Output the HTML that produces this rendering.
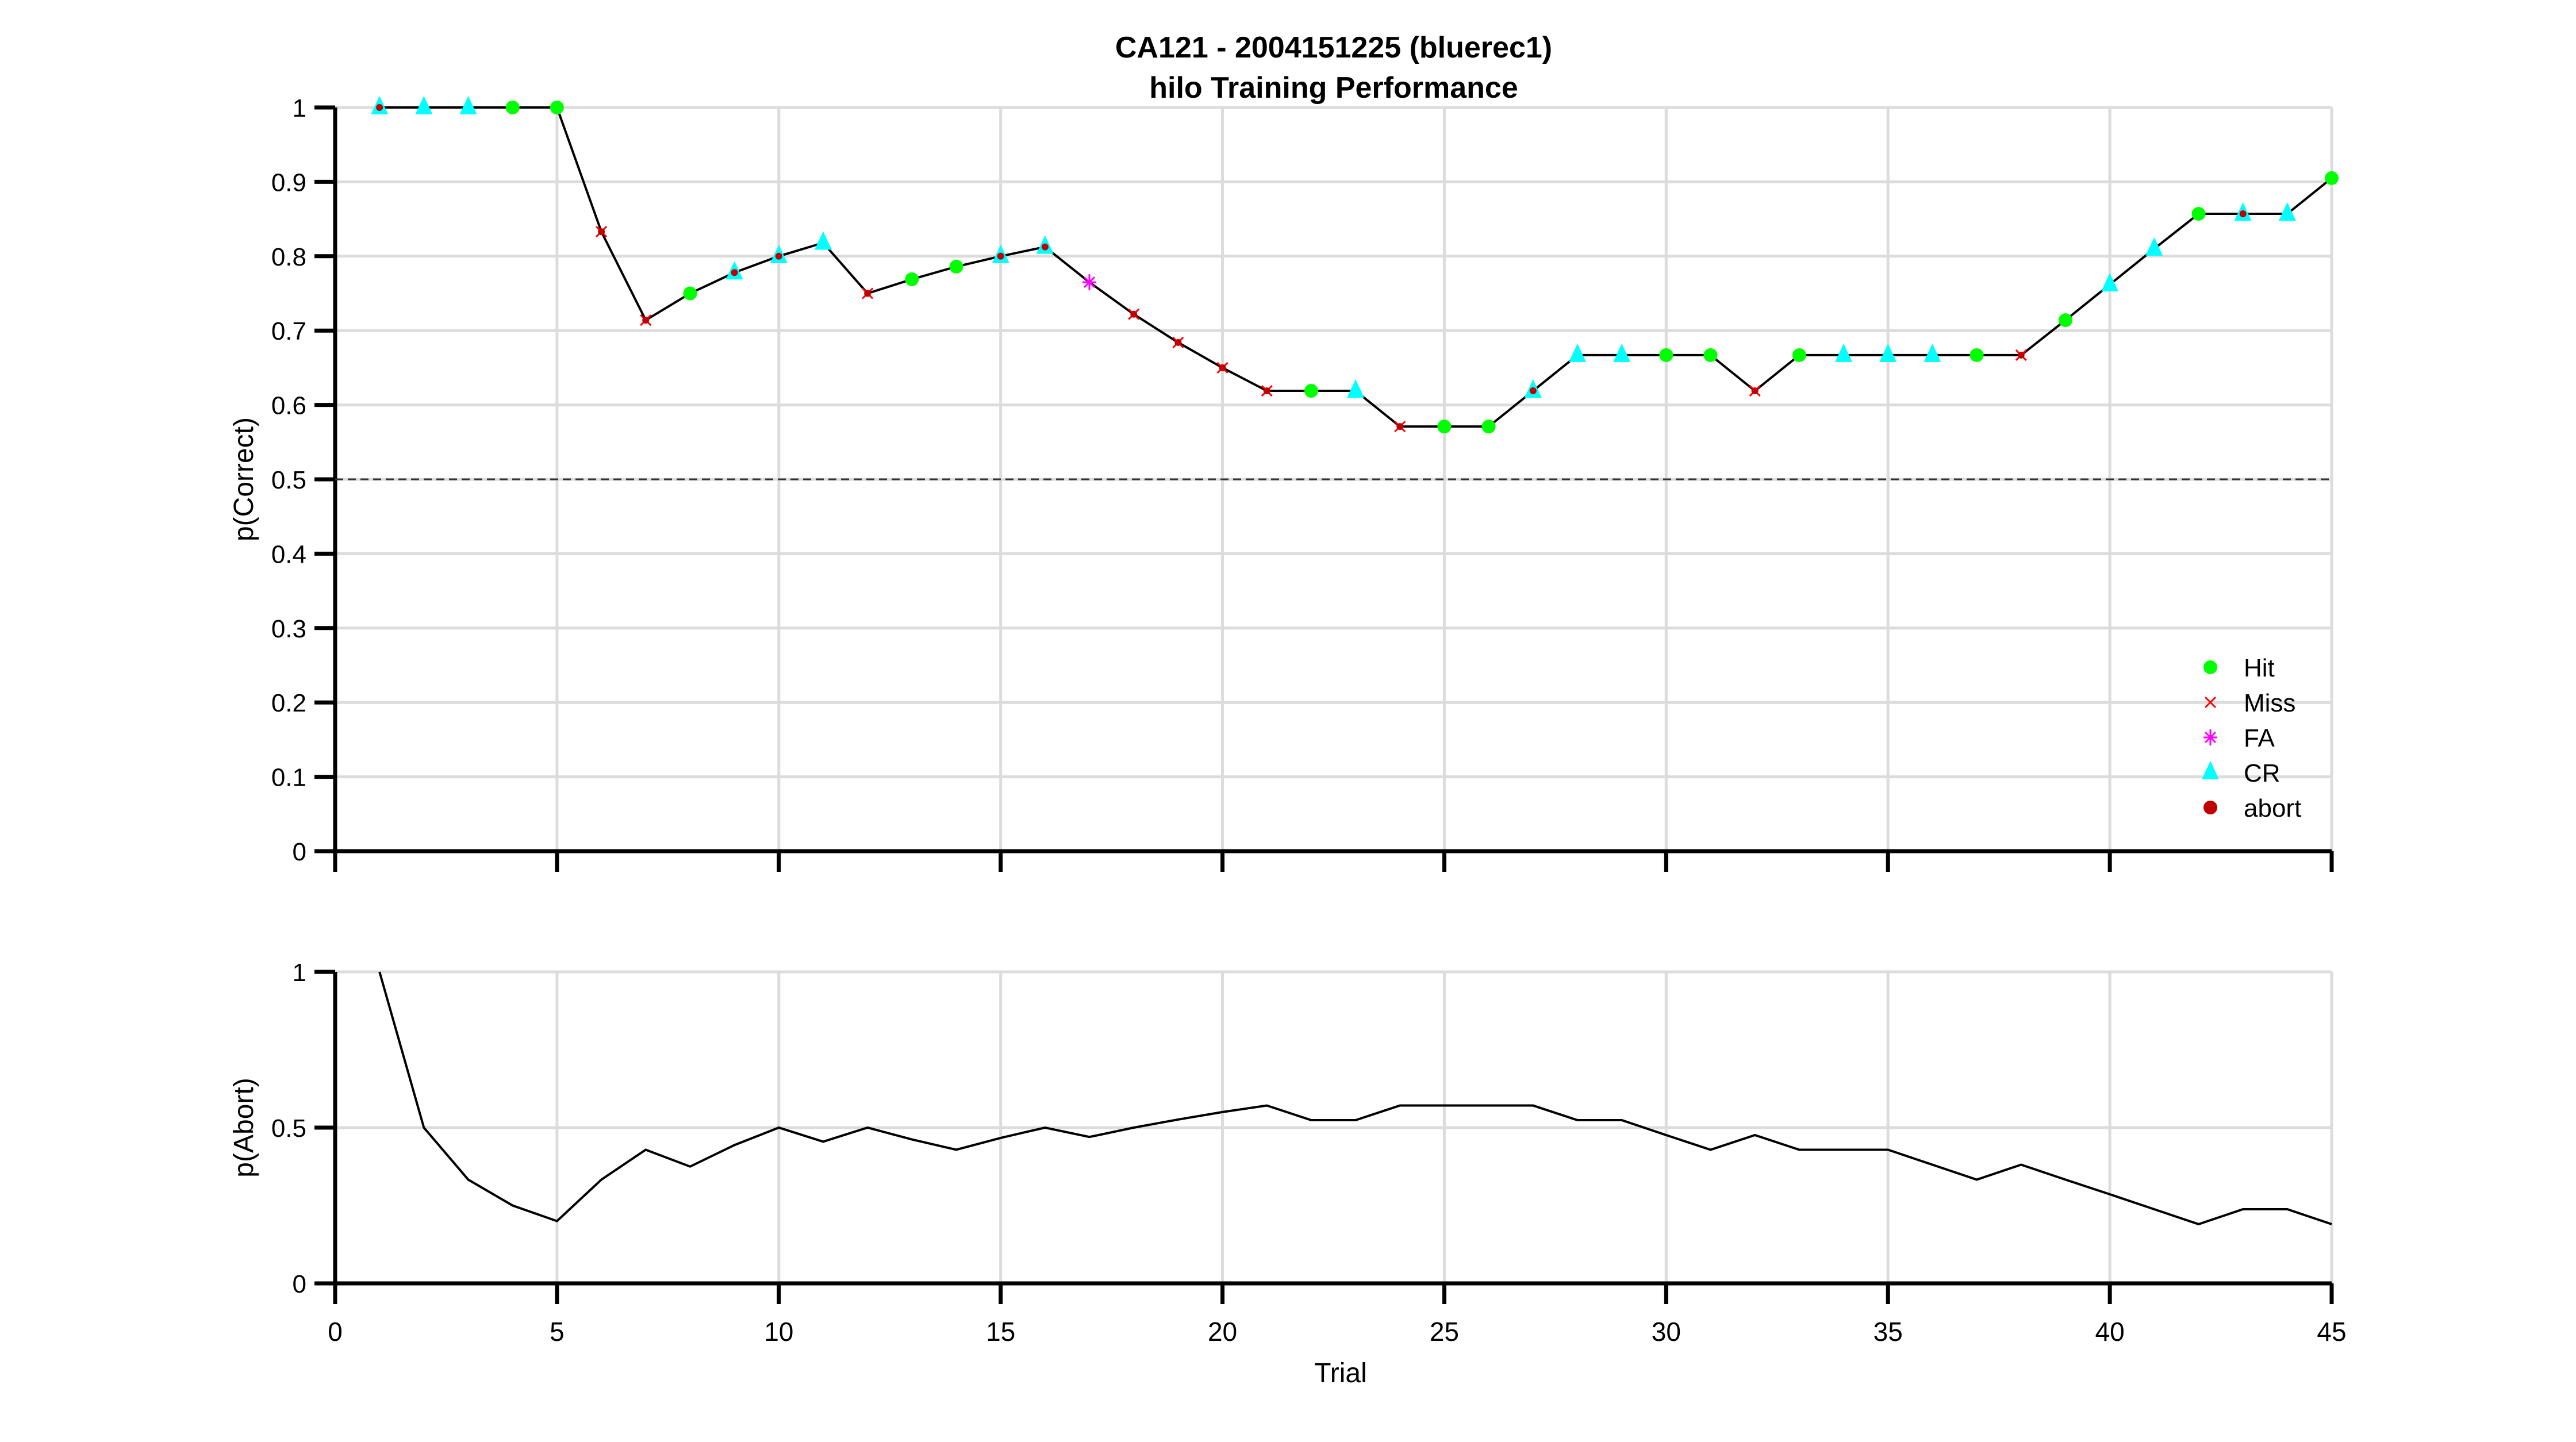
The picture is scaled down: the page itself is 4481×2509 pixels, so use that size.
<!DOCTYPE html>
<html><head><meta charset="utf-8">
<style>html,body{margin:0;padding:0;background:#fff;}svg{display:block;font-family:"Liberation Sans",Arial,sans-serif;}</style>
</head><body>
<svg id="chart" width="4481" height="2509" viewBox="0 0 4481 2509" xmlns="http://www.w3.org/2000/svg">
<g font-weight="bold" font-size="52" text-anchor="middle">
<text x="2320" y="100">CA121 - 2004151225 (bluerec1)</text>
<text x="2320" y="170">hilo Training Performance</text>
</g>
<g id="topPlot"></g>
<g id="botPlot"></g>
<g id="legend"></g>
<text x="2332" y="2405" font-size="48" text-anchor="middle">Trial</text>
<text transform="translate(440,834) rotate(-90)" font-size="48" text-anchor="middle">p(Correct)</text>
<text transform="translate(440,1962) rotate(-90)" font-size="48" text-anchor="middle">p(Abort)</text>
</svg>
<script>
const trials = [1,2,3,4,5,6,7,8,9,10,11,12,13,14,15,16,17,18,19,20,21,22,23,24,25,26,27,28,29,30,31,32,33,34,35,36,37,38,39,40,41,42,43,44,45];
const pCorrect = [1,1,1,1,1,0.833,0.714,0.75,0.778,0.8,0.818,0.75,0.769,0.786,0.8,0.8125,0.765,0.722,0.684,0.65,0.619,0.619,0.619,0.571,0.571,0.571,0.619,0.667,0.667,0.667,0.667,0.619,0.667,0.667,0.667,0.667,0.667,0.667,0.714,0.762,0.81,0.857,0.857,0.857,0.905];
const outcome = ["CR","CR","CR","Hit","Hit","Miss","Miss","Hit","CR","CR","CR","Miss","Hit","Hit","CR","CR","FA","Miss","Miss","Miss","Miss","Hit","CR","Miss","Hit","Hit","CR","CR","CR","Hit","Hit","Miss","Hit","CR","CR","CR","Hit","Miss","Hit","CR","CR","Hit","CR","CR","Hit"];
const abortFlag = [1,0,0,0,0,1,1,0,1,1,0,1,0,0,1,1,0,1,1,1,1,0,0,1,0,0,1,0,0,0,0,1,0,0,0,0,0,1,0,0,0,0,1,0,0];
const pAbort = [1,0.5,0.333,0.25,0.2,0.333,0.429,0.375,0.444,0.5,0.455,0.5,0.462,0.429,0.467,0.5,0.47,0.5,0.526,0.55,0.571,0.524,0.524,0.571,0.571,0.571,0.571,0.524,0.524,0.476,0.429,0.476,0.429,0.429,0.429,0.381,0.333,0.381,0.333,0.286,0.238,0.19,0.238,0.238,0.19];
const xTicks = [0,5,10,15,20,25,30,35,40,45];
const yTicksTop = [0,0.1,0.2,0.3,0.4,0.5,0.6,0.7,0.8,0.9,1];
const yTickLabelsTop = ["0","0.1","0.2","0.3","0.4","0.5","0.6","0.7","0.8","0.9","1"];
const yTicksBot = [0,0.5,1];
const yTickLabelsBot = ["0","0.5","1"];
const legendLabels = ["Hit","Miss","FA","CR","abort"];

const NS="http://www.w3.org/2000/svg";
const X0=583,X1=4056;
const xs=v=>X0+(X1-X0)*v/45;
const yTopS=v=>1481-(1481-187)*v;
const yBotS=v=>2233-(2233-1691)*v;
function mk(parent,tag,attrs){const e=document.createElementNS(NS,tag);for(const k in attrs)e.setAttribute(k,attrs[k]);parent.appendChild(e);return e;}

function axes(g,ys,yT,yL,yTop0,yBottom,label){
  xTicks.forEach(t=>{const l=mk(g,'line',{x1:xs(t),x2:xs(t),y1:yTop0,y2:yBottom,stroke:'#dcdcdc','stroke-width':5});
    
    });
  yT.forEach(t=>{const l=mk(g,'line',{x1:X0,x2:X1,y1:ys(t),y2:ys(t),stroke:'#dcdcdc','stroke-width':5});
    
    });
  const ax=mk(g,'path',{d:`M${X0},${yTop0}V${yBottom}H${X1}`,fill:'none',stroke:'#000','stroke-width':7});
  
  
  yT.forEach((t,i)=>{const l=mk(g,'line',{x1:X0-36,x2:X0,y1:ys(t),y2:ys(t),stroke:'#000','stroke-width':7});
    
    
    const tx=mk(g,'text',{x:X0-50,y:ys(t)+16,'font-size':44,'text-anchor':'end'});tx.textContent=yL[i];
    
    });
  xTicks.forEach(t=>{const l=mk(g,'line',{x1:xs(t),x2:xs(t),y1:yBottom,y2:yBottom+36,stroke:'#000','stroke-width':7});
    
    
    if(label){const tx=mk(g,'text',{x:xs(t),y:yBottom+100,'font-size':46,'text-anchor':'middle'});tx.textContent=String(t);
      
      }});
}
function marker(g,type,x,y,big){
  let e;
  if(type==='Hit'){e=mk(g,'circle',{cx:x,cy:y,r:12,fill:'#00ff00'});}
  else if(type==='CR'){e=mk(g,'path',{d:`M${x},${y-20}L${x+15},${y+12}L${x-15},${y+12}Z`,fill:'#00ffff'});}
  else if(type==='Miss'){e=mk(g,'path',{d:`M${x-9},${y-9}L${x+9},${y+9}M${x-9},${y+9}L${x+9},${y-9}`,stroke:'#ff0000','stroke-width':3});}
  else if(type==='FA'){e=mk(g,'path',{d:`M${x-12},${y}H${x+12}M${x},${y-14}V${y+14}M${x-9},${y-9}L${x+9},${y+9}M${x-9},${y+9}L${x+9},${y-9}`,stroke:'#ff00ff','stroke-width':3});}
  else {e=mk(g,'circle',{cx:x,cy:y,r:big?12:6,fill:'#c00000'});}
  return e;
}
const topG=document.getElementById('topPlot');
axes(topG,yTopS,yTicksTop,yTickLabelsTop,187,1481,false);
const dl=mk(topG,'line',{x1:X0,x2:X1,y1:yTopS(0.5),y2:yTopS(0.5),stroke:'#333','stroke-width':3,'stroke-dasharray':'14,8'});


const ln=mk(topG,'polyline',{points:trials.map((t,i)=>xs(t)+','+yTopS(pCorrect[i])).join(' '),fill:'none',stroke:'#000','stroke-width':4});


trials.forEach((t,i)=>{const m=marker(topG,outcome[i],xs(t),yTopS(pCorrect[i]));
  
  
  if(abortFlag[i]){const a=marker(topG,'abort',xs(t),yTopS(pCorrect[i]));
    
    }});
const botG=document.getElementById('botPlot');
axes(botG,yBotS,yTicksBot,yTickLabelsBot,1691,2233,true);
const ln2=mk(botG,'polyline',{points:trials.map((t,i)=>xs(t)+','+yBotS(pAbort[i])).join(' '),fill:'none',stroke:'#000','stroke-width':4});


const lg=document.getElementById('legend');
legendLabels.forEach((lab,i)=>{const y=1161+i*61;
  const m=marker(lg,lab,3845,y,true);
  
  
  const tx=mk(lg,'text',{x:3903,y:y+16,'font-size':44});tx.textContent=lab;
  
  });
</script>
</body></html>
